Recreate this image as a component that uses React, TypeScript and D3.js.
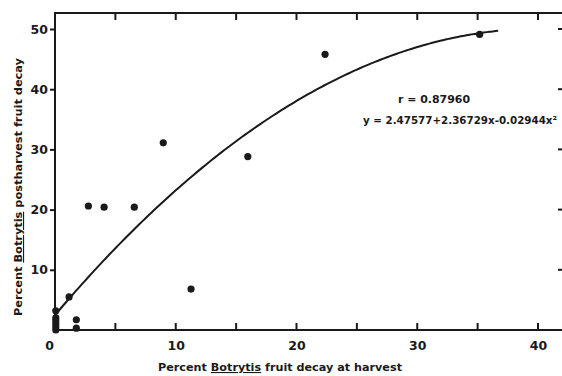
import * as d3 from "d3";
import { useEffect, useRef } from "react";

// harvest decay (%) vs postharvest decay (%)
const harvestDecay = [0, 0, 0, 0, 0, 0, 1.1, 1.7, 1.7, 2.7, 4.0, 6.5, 8.9, 11.2, 15.9, 22.3, 35.1];
const postDecay = [3.2, 2.0, 1.5, 1.0, 0.5, 0, 5.5, 1.7, 0.3, 20.6, 20.4, 20.4, 31.1, 6.8, 28.8, 45.8, 49.1];

// quadratic fit y = a + b x + c x^2
const coef = [2.47577, 2.36729, -0.02944];
const fitRange = [0, 36.7];

const xTicks = [0, 10, 20, 30, 40];
const xMinorTicks = [5, 10, 15, 20, 25, 30, 35, 40];
const yTicks = [10, 20, 30, 40, 50];

export default function App() {
  const xRef = useRef<SVGGElement>(null);
  const yRef = useRef<SVGGElement>(null);

  const width = 562;
  const height = 376;
  const left = 55;
  const bottom = 330;
  const top = 13;
  const right = 564;

  const x = d3.scaleLinear().domain([0, 40]).range([left, 538]);
  const y = d3.scaleLinear().domain([0, 50]).range([bottom, 29]);

  const fit = (v: number) => coef[0] + coef[1] * v + coef[2] * v * v;
  const curveX = d3.range(fitRange[0], fitRange[1], 0.25).concat([fitRange[1]]);
  const line = d3.line<number>()
    .x(d => x(d))
    .y(d => y(fit(d)))
    .curve(d3.curveBasis);

  useEffect(() => {
    const xaxis = d3.axisBottom(x).tickValues(xTicks).tickSize(0).tickPadding(11)
      .tickFormat(d3.format("d"));
    const yaxis = d3.axisLeft(y).tickValues(yTicks).tickSize(5).tickPadding(2)
      .tickFormat(d3.format("d"));
    const gx = d3.select(xRef.current!).call(xaxis);
    const gy = d3.select(yRef.current!).call(yaxis);
    [gx, gy].forEach(g => {
      g.select(".domain").remove();
      g.selectAll("text")
        .attr("font-family", "DejaVu Sans")
        .attr("font-weight", "bold")
        .attr("font-size", 12.5)
        .attr("fill", "#1a1a1a");
      g.selectAll("line").attr("stroke", "#1a1a1a").attr("stroke-width", 2);
    });
    gx.selectAll<SVGTextElement, number>("text")
      .attr("dx", d => (d === 0 ? -6 : 0));
  }, []);

  const ink = "#1a1a1a";

  return (
    <svg width={width} height={height}
      style={{ position: "absolute", left: 0, top: 0, background: "#fff" }}>
      {/* frame */}
      <rect x={left} y={top} width={right - left} height={bottom - top}
        fill="none" stroke={ink} strokeWidth={2} />
      {/* inward ticks bottom and top */}
      {xMinorTicks.map(t => (
        <g key={"t" + t}>
          <line x1={x(t)} x2={x(t)} y1={bottom} y2={bottom - 7} stroke={ink} strokeWidth={2} />
          <line x1={x(t)} x2={x(t)} y1={top} y2={top + 7} stroke={ink} strokeWidth={2} />
        </g>
      ))}
      {yTicks.map(t => (
        <line key={"r" + t} x1={right} x2={right - 6} y1={y(t)} y2={y(t)} stroke={ink} strokeWidth={2} />
      ))}
      <g ref={xRef} transform={`translate(0,${bottom})`} />
      <g ref={yRef} transform={`translate(${left},0)`} />

      {/* fitted curve */}
      <path d={line(curveX) || ""} fill="none" stroke={ink} strokeWidth={2} />

      {/* points */}
      {harvestDecay.map((d, i) => (
        <circle key={i} cx={x(d) + 0.8} cy={y(postDecay[i])} r={3.6} fill={ink} />
      ))}

      {/* regression text */}
      <text x={398} y={103} fontFamily="DejaVu Sans" fontWeight="bold" fontSize={10.5}
        fill={ink} textLength={72} lengthAdjust="spacingAndGlyphs">r = 0.87960</text>
      <text x={363} y={124} fontFamily="DejaVu Sans" fontWeight="bold" fontSize={10.5}
        fill={ink} textLength={194} lengthAdjust="spacingAndGlyphs">
        y = 2.47577+2.36729x-0.02944x²
      </text>

      {/* axis titles */}
      <text x={158} y={371} fontFamily="DejaVu Sans" fontWeight="bold" fontSize={11}
        fill={ink} textLength={244} lengthAdjust="spacingAndGlyphs">
        Percent <tspan textDecoration="underline">Botrytis</tspan> fruit decay at harvest
      </text>
      <text transform="translate(22,316) rotate(-90)" fontFamily="DejaVu Sans" fontWeight="bold"
        fontSize={11} fill={ink} textLength={258} lengthAdjust="spacingAndGlyphs">
        Percent <tspan textDecoration="underline">Botrytis</tspan> postharvest fruit decay
      </text>
    </svg>
  );
}
